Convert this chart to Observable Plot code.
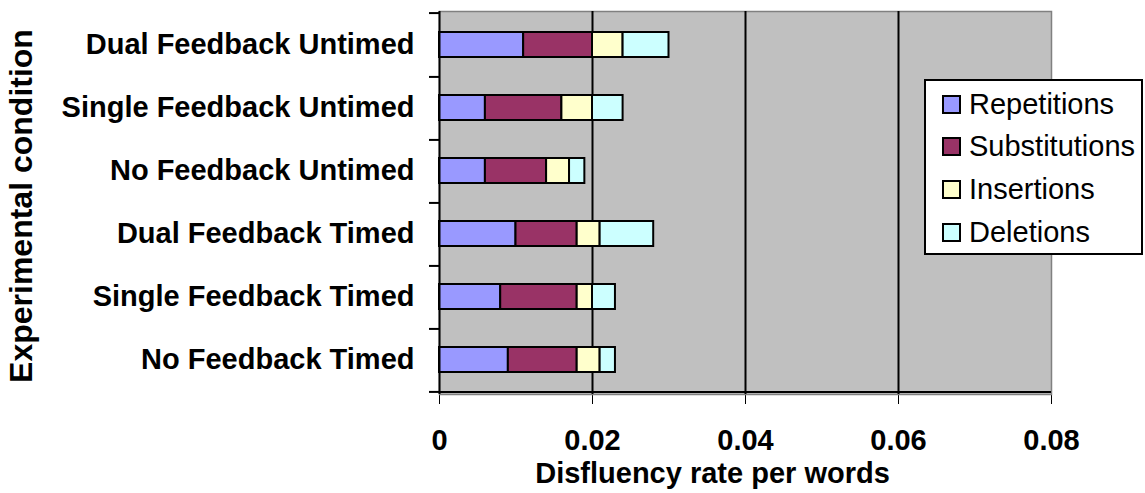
<!DOCTYPE html>
<html>
<head>
<meta charset="utf-8">
<script src="https://cdn.jsdelivr.net/npm/d3@7"></script>
<script src="https://cdn.jsdelivr.net/npm/@observablehq/plot@0.6"></script>
<style>
  html, body { margin: 0; padding: 0; background: #fff; }
  #wrap { position: relative; width: 1145px; height: 493px; }
  #legend {
    position: absolute; left: 924px; top: 79px; width: 215px; height: 172px;
    border: 2px solid #000; background: #fff;
    font-family: "Liberation Sans", Arial, sans-serif; font-size: 29px; color: #000;
  }
  .row { position: absolute; left: 16px; height: 30px; display: flex; align-items: center; }
  .sw { width: 15px; height: 15px; border: 2px solid #000; margin-right: 8px; }
</style>
</head>
<body>
<div id="wrap"><div id="legend"></div></div>
<script>
const conditions = ["Dual Feedback Untimed", "Single Feedback Untimed", "No Feedback Untimed",
                    "Dual Feedback Timed", "Single Feedback Timed", "No Feedback Timed"];
const types = ["Repetitions", "Substitutions", "Insertions", "Deletions"];
const repetitions   = [0.011, 0.006, 0.006, 0.010, 0.008, 0.009];
const substitutions = [0.009, 0.010, 0.008, 0.008, 0.010, 0.009];
const insertions    = [0.004, 0.004, 0.003, 0.003, 0.002, 0.003];
const deletions     = [0.006, 0.004, 0.002, 0.007, 0.003, 0.002];
const colors = ["#9999ff", "#993366", "#ffffcc", "#ccffff"];
const xTicks = [0, 0.02, 0.04, 0.06, 0.08];
const gridValues = [0.02, 0.04, 0.06];
const xTitle = "Disfluency rate per words";
const yTitle = "Experimental condition";

const series = [repetitions, substitutions, insertions, deletions];
const data = [];
types.forEach((t, k) => conditions.forEach((c, i) => data.push({type: t, condition: c, value: series[k][i]})));

const W = 1145, H = 493, mt = 11, mb = 99, ml = 439, mr = 94;
const pIn = 0.6, pOut = 0.3;
const step = (H - mt - mb) / (conditions.length - pIn + 2 * pOut);

const chart = Plot.plot({
  width: W, height: H,
  marginTop: mt, marginBottom: mb, marginLeft: ml, marginRight: mr,
  style: {fontFamily: "'Liberation Sans', Arial, sans-serif", fontSize: "29px", fontWeight: "bold", background: "#fff", color: "#000"},
  x: {domain: [0, 0.08], ticks: xTicks, tickSize: 10, tickPadding: 25,
      tickFormat: d => d === 0 ? "0" : d.toFixed(2), label: null},
  y: {domain: conditions, paddingInner: pIn, paddingOuter: pOut, tickSize: 0, tickPadding: 25, label: null},
  color: {domain: types, range: colors},
  marks: [
    Plot.frame({fill: "#c0c0c0", stroke: "#808080", strokeWidth: 1.5}),
    Plot.ruleX(gridValues, {stroke: "#000", strokeWidth: 2}),
    Plot.barX(data, Plot.stackX({x: "value", y: "condition", fill: "type", stroke: "#000", strokeWidth: 2})),
    Plot.ruleX([0], {stroke: "#000", strokeWidth: 2}),
    Plot.ruleY([conditions[conditions.length - 1]], {x1: 0, x2: 0.08, dy: step / 2, stroke: "#000", strokeWidth: 2}),
    Plot.ruleY(conditions, {x1: 0, x2: 0, insetLeft: -10, dy: step / 2, stroke: "#000", strokeWidth: 2}),
    Plot.ruleY([conditions[0]], {x1: 0, x2: 0, insetLeft: -10, dy: -step / 2, stroke: "#000", strokeWidth: 2}),
    Plot.text([xTitle], {text: d => d, frameAnchor: "bottom", textAnchor: "middle", lineAnchor: "middle",
                         dx: -33, dy: 79, fontSize: 29, fontWeight: "bold"}),
    Plot.text([yTitle], {text: d => d, frameAnchor: "left", textAnchor: "middle", lineAnchor: "middle",
                         rotate: -90, dx: -418, dy: 3, fontSize: 32, fontWeight: "bold"})
  ]
});
document.getElementById("wrap").insertBefore(chart, document.getElementById("legend"));

const legend = document.getElementById("legend");
types.forEach((t, k) => {
  const row = document.createElement("div");
  row.className = "row";
  row.style.top = (8 + k * 42.7) + "px";
  const sw = document.createElement("div");
  sw.className = "sw";
  sw.style.background = colors[k];
  const lab = document.createElement("span");
  lab.textContent = t;
  row.appendChild(sw); row.appendChild(lab);
  legend.appendChild(row);
});
</script>
</body>
</html>
